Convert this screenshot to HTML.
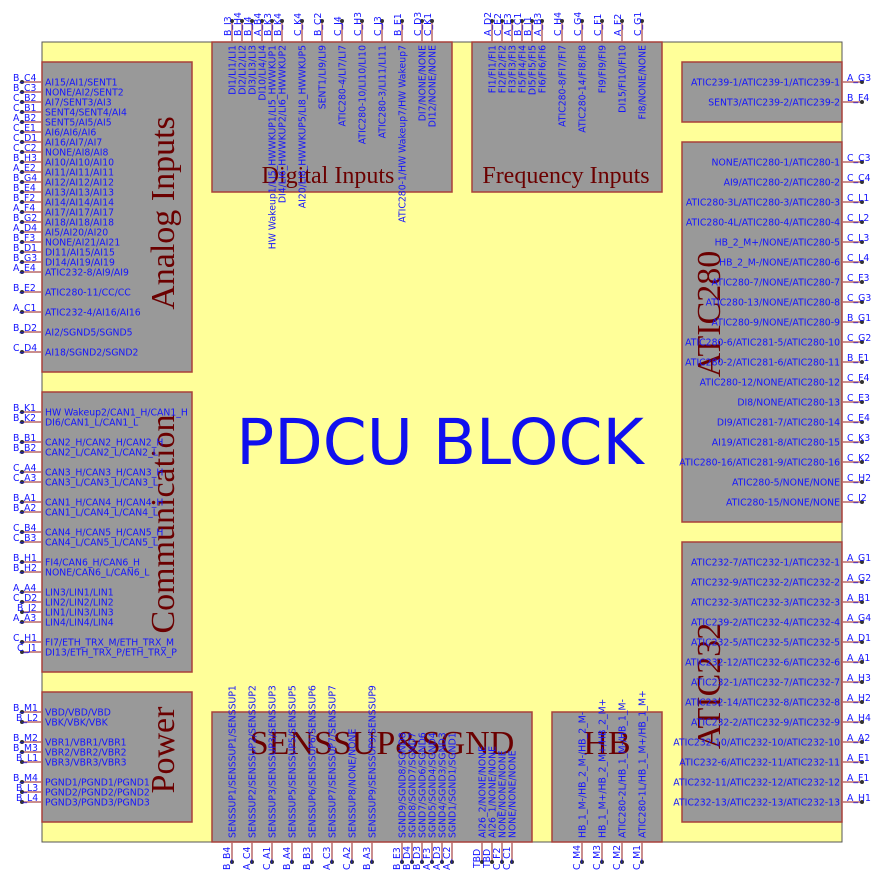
<!DOCTYPE html>
<html><head><meta charset="utf-8"><style>
html,body{margin:0;padding:0;background:#fff;}
svg{display:block;}
.t{font-family:"DejaVu Sans","Liberation Sans",sans-serif;font-size:9.3px;fill:#1414ff;}
.e{text-anchor:end;}
.ti{font-family:"Liberation Serif",serif;fill:#6b0000;}
.pl{stroke:#b86868;stroke-width:1.5;}
.bx{fill:#999999;stroke:#a8403a;stroke-width:1.5;}
</style></head><body>
<svg width="884" height="884" viewBox="0 0 884 884" xmlns="http://www.w3.org/2000/svg">
<rect x="0" y="0" width="884" height="884" fill="#fff"/>
<rect x="42" y="42" width="800" height="800" fill="#ffff99" stroke="#555" stroke-width="1"/>

<!-- boxes -->
<rect class="bx" x="42" y="62" width="150" height="310"/>
<rect class="bx" x="42" y="392" width="150" height="280"/>
<rect class="bx" x="42" y="692" width="150" height="130"/>
<rect class="bx" x="212" y="42" width="240" height="150"/>
<rect class="bx" x="472" y="42" width="190" height="150"/>
<rect class="bx" x="682" y="62" width="160" height="60"/>
<rect class="bx" x="682" y="142" width="160" height="380"/>
<rect class="bx" x="682" y="542" width="160" height="280"/>
<rect class="bx" x="212" y="712" width="320" height="130"/>
<rect class="bx" x="552" y="712" width="110" height="130"/>

<!-- titles -->
<text class="ti" font-size="34" text-anchor="middle" transform="translate(174,213) rotate(-90)">Analog Inputs</text>
<text class="ti" font-size="34" text-anchor="middle" transform="translate(174,524) rotate(-90)">Communication</text>
<text class="ti" font-size="34" text-anchor="middle" transform="translate(174,750) rotate(-90)">Power</text>
<text class="ti" font-size="24" text-anchor="middle" x="328" y="183">Digital Inputs</text>
<text class="ti" font-size="24" text-anchor="middle" x="566" y="183">Frequency Inputs</text>
<text class="ti" font-size="34" text-anchor="middle" transform="translate(720,314) rotate(-90)">ATIC280</text>
<text class="ti" font-size="34" text-anchor="middle" transform="translate(720,686) rotate(-90)">ATIC232</text>
<text class="ti" font-size="34" text-anchor="middle" x="382" y="754">SENSSUP&amp;SGND</text>
<text class="ti" font-size="34" text-anchor="middle" x="607" y="754">HB</text>

<text x="440" y="464" text-anchor="middle" font-family="'DejaVu Sans','Liberation Sans',sans-serif" font-size="63" fill="#1010ee">PDCU BLOCK</text>

<!-- LEFT PINS -->
<g id="left">
<path class="pl" d="M22 82H42M22 92H42M22 102H42M22 112H42M22 122H42M22 132H42M22 142H42M22 152H42M22 162H42M22 172H42M22 182H42M22 192H42M22 202H42M22 212H42M22 222H42M22 232H42M22 242H42M22 252H42M22 262H42M22 272H42M22 292H42M22 312H42M22 332H42M22 352H42
M22 412H42M22 422H42M22 442H42M22 452H42M22 472H42M22 482H42M22 502H42M22 512H42M22 532H42M22 542H42M22 562H42M22 572H42M22 592H42M22 602H42M22 612H42M22 622H42M22 642H42M22 652H42
M22 712H42M22 722H42M22 742H42M22 752H42M22 762H42M22 782H42M22 792H42M22 802H42"/>
<g fill="#333">
<circle cx="22" cy="82" r="2"/><circle cx="22" cy="92" r="2"/><circle cx="22" cy="102" r="2"/><circle cx="22" cy="112" r="2"/><circle cx="22" cy="122" r="2"/><circle cx="22" cy="132" r="2"/><circle cx="22" cy="142" r="2"/><circle cx="22" cy="152" r="2"/><circle cx="22" cy="162" r="2"/><circle cx="22" cy="172" r="2"/><circle cx="22" cy="182" r="2"/><circle cx="22" cy="192" r="2"/><circle cx="22" cy="202" r="2"/><circle cx="22" cy="212" r="2"/><circle cx="22" cy="222" r="2"/><circle cx="22" cy="232" r="2"/><circle cx="22" cy="242" r="2"/><circle cx="22" cy="252" r="2"/><circle cx="22" cy="262" r="2"/><circle cx="22" cy="272" r="2"/><circle cx="22" cy="292" r="2"/><circle cx="22" cy="312" r="2"/><circle cx="22" cy="332" r="2"/><circle cx="22" cy="352" r="2"/>
<circle cx="22" cy="412" r="2"/><circle cx="22" cy="422" r="2"/><circle cx="22" cy="442" r="2"/><circle cx="22" cy="452" r="2"/><circle cx="22" cy="472" r="2"/><circle cx="22" cy="482" r="2"/><circle cx="22" cy="502" r="2"/><circle cx="22" cy="512" r="2"/><circle cx="22" cy="532" r="2"/><circle cx="22" cy="542" r="2"/><circle cx="22" cy="562" r="2"/><circle cx="22" cy="572" r="2"/><circle cx="22" cy="592" r="2"/><circle cx="22" cy="602" r="2"/><circle cx="22" cy="612" r="2"/><circle cx="22" cy="622" r="2"/><circle cx="22" cy="642" r="2"/><circle cx="22" cy="652" r="2"/>
<circle cx="22" cy="712" r="2"/><circle cx="22" cy="722" r="2"/><circle cx="22" cy="742" r="2"/><circle cx="22" cy="752" r="2"/><circle cx="22" cy="762" r="2"/><circle cx="22" cy="782" r="2"/><circle cx="22" cy="792" r="2"/><circle cx="22" cy="802" r="2"/>
</g>
<g class="t">
<text x="13" y="81">B_C4</text><text x="45" y="85.5">AI15/AI1/SENT1</text>
<text x="13" y="91">B_C3</text><text x="45" y="95.5">NONE/AI2/SENT2</text>
<text x="13" y="101">C_B2</text><text x="45" y="105.5">AI7/SENT3/AI3</text>
<text x="13" y="111">C_B1</text><text x="45" y="115.5">SENT4/SENT4/AI4</text>
<text x="13" y="121">A_B2</text><text x="45" y="125.5">SENT5/AI5/AI5</text>
<text x="13" y="131">C_E1</text><text x="45" y="135.5">AI6/AI6/AI6</text>
<text x="13" y="141">C_D1</text><text x="45" y="145.5">AI16/AI7/AI7</text>
<text x="13" y="151">C_C2</text><text x="45" y="155.5">NONE/AI8/AI8</text>
<text x="13" y="161">B_H3</text><text x="45" y="165.5">AI10/AI10/AI10</text>
<text x="13" y="171">A_E2</text><text x="45" y="175.5">AI11/AI11/AI11</text>
<text x="13" y="181">B_G4</text><text x="45" y="185.5">AI12/AI12/AI12</text>
<text x="13" y="191">B_E4</text><text x="45" y="195.5">AI13/AI13/AI13</text>
<text x="13" y="201">B_F2</text><text x="45" y="205.5">AI14/AI14/AI14</text>
<text x="13" y="211">A_F4</text><text x="45" y="215.5">AI17/AI17/AI17</text>
<text x="13" y="221">B_G2</text><text x="45" y="225.5">AI18/AI18/AI18</text>
<text x="13" y="231">A_D4</text><text x="45" y="235.5">AI5/AI20/AI20</text>
<text x="13" y="241">B_F3</text><text x="45" y="245.5">NONE/AI21/AI21</text>
<text x="13" y="251">B_D1</text><text x="45" y="255.5">DI11/AI15/AI15</text>
<text x="13" y="261">B_G3</text><text x="45" y="265.5">DI14/AI19/AI19</text>
<text x="13" y="271">A_E4</text><text x="45" y="275.5">ATIC232-8/AI9/AI9</text>
<text x="13" y="291">B_E2</text><text x="45" y="295.5">ATIC280-11/CC/CC</text>
<text x="13" y="311">A_C1</text><text x="45" y="315.5">ATIC232-4/AI16/AI16</text>
<text x="13" y="331">B_D2</text><text x="45" y="335.5">AI2/SGND5/SGND5</text>
<text x="13" y="351">C_D4</text><text x="45" y="355.5">AI18/SGND2/SGND2</text>

<text x="13" y="411">B_K1</text><text x="45" y="415.5">HW Wakeup2/CAN1_H/CAN1_H</text>
<text x="13" y="421">B_K2</text><text x="45" y="425.5">DI6/CAN1_L/CAN1_L</text>
<text x="13" y="441">B_B1</text><text x="45" y="445.5">CAN2_H/CAN2_H/CAN2_H</text>
<text x="13" y="451">B_B2</text><text x="45" y="455.5">CAN2_L/CAN2_L/CAN2_L</text>
<text x="13" y="471">C_A4</text><text x="45" y="475.5">CAN3_H/CAN3_H/CAN3_H</text>
<text x="13" y="481">C_A3</text><text x="45" y="485.5">CAN3_L/CAN3_L/CAN3_L</text>
<text x="13" y="501">B_A1</text><text x="45" y="505.5">CAN1_H/CAN4_H/CAN4_H</text>
<text x="13" y="511">B_A2</text><text x="45" y="515.5">CAN1_L/CAN4_L/CAN4_L</text>
<text x="13" y="531">C_B4</text><text x="45" y="535.5">CAN4_H/CAN5_H/CAN5_H</text>
<text x="13" y="541">C_B3</text><text x="45" y="545.5">CAN4_L/CAN5_L/CAN5_L</text>
<text x="13" y="561">B_H1</text><text x="45" y="565.5">FI4/CAN6_H/CAN6_H</text>
<text x="13" y="571">B_H2</text><text x="45" y="575.5">NONE/CAN6_L/CAN6_L</text>
<text x="13" y="591">A_A4</text><text x="45" y="595.5">LIN3/LIN1/LIN1</text>
<text x="13" y="601">C_D2</text><text x="45" y="605.5">LIN2/LIN2/LIN2</text>
<text x="17" y="611">B_J2</text><text x="45" y="615.5">LIN1/LIN3/LIN3</text>
<text x="13" y="621">A_A3</text><text x="45" y="625.5">LIN4/LIN4/LIN4</text>
<text x="13" y="641">C_H1</text><text x="45" y="645.5">FI7/ETH_TRX_M/ETH_TRX_M</text>
<text x="17" y="651">C_J1</text><text x="45" y="655.5">DI13/ETH_TRX_P/ETH_TRX_P</text>

<text x="13" y="711">B_M1</text><text x="45" y="715.5">VBD/VBD/VBD</text>
<text x="16" y="721">B_L2</text><text x="45" y="725.5">VBK/VBK/VBK</text>
<text x="13" y="741">B_M2</text><text x="45" y="745.5">VBR1/VBR1/VBR1</text>
<text x="13" y="751">B_M3</text><text x="45" y="755.5">VBR2/VBR2/VBR2</text>
<text x="16" y="761">B_L1</text><text x="45" y="765.5">VBR3/VBR3/VBR3</text>
<text x="13" y="781">B_M4</text><text x="45" y="785.5">PGND1/PGND1/PGND1</text>
<text x="16" y="791">B_L3</text><text x="45" y="795.5">PGND2/PGND2/PGND2</text>
<text x="16" y="801">B_L4</text><text x="45" y="805.5">PGND3/PGND3/PGND3</text>
</g>
</g>

<!-- RIGHT PINS -->
<g>
<path class="pl" d="M842 82H862M842 102H862M842 162H862M842 182H862M842 202H862M842 222H862M842 242H862M842 262H862M842 282H862M842 302H862M842 322H862M842 342H862M842 362H862M842 382H862M842 402H862M842 422H862M842 442H862M842 462H862M842 482H862M842 502H862
M842 562H862M842 582H862M842 602H862M842 622H862M842 642H862M842 662H862M842 682H862M842 702H862M842 722H862M842 742H862M842 762H862M842 782H862M842 802H862"/>
<g fill="#333">
<circle cx="862" cy="82" r="2"/><circle cx="862" cy="102" r="2"/><circle cx="862" cy="162" r="2"/><circle cx="862" cy="182" r="2"/><circle cx="862" cy="202" r="2"/><circle cx="862" cy="222" r="2"/><circle cx="862" cy="242" r="2"/><circle cx="862" cy="262" r="2"/><circle cx="862" cy="282" r="2"/><circle cx="862" cy="302" r="2"/><circle cx="862" cy="322" r="2"/><circle cx="862" cy="342" r="2"/><circle cx="862" cy="362" r="2"/><circle cx="862" cy="382" r="2"/><circle cx="862" cy="402" r="2"/><circle cx="862" cy="422" r="2"/><circle cx="862" cy="442" r="2"/><circle cx="862" cy="462" r="2"/><circle cx="862" cy="482" r="2"/><circle cx="862" cy="502" r="2"/>
<circle cx="862" cy="562" r="2"/><circle cx="862" cy="582" r="2"/><circle cx="862" cy="602" r="2"/><circle cx="862" cy="622" r="2"/><circle cx="862" cy="642" r="2"/><circle cx="862" cy="662" r="2"/><circle cx="862" cy="682" r="2"/><circle cx="862" cy="702" r="2"/><circle cx="862" cy="722" r="2"/><circle cx="862" cy="742" r="2"/><circle cx="862" cy="762" r="2"/><circle cx="862" cy="782" r="2"/><circle cx="862" cy="802" r="2"/>
</g>
<g class="t">
<text x="847" y="81">A_G3</text><text class="e" x="840" y="85.5">ATIC239-1/ATIC239-1/ATIC239-1</text>
<text x="847" y="101">B_F4</text><text class="e" x="840" y="105.5">SENT3/ATIC239-2/ATIC239-2</text>
<text x="847" y="161">C_C3</text><text class="e" x="840" y="165.5">NONE/ATIC280-1/ATIC280-1</text>
<text x="847" y="181">C_C4</text><text class="e" x="840" y="185.5">AI9/ATIC280-2/ATIC280-2</text>
<text x="847" y="201">C_L1</text><text class="e" x="840" y="205.5">ATIC280-3L/ATIC280-3/ATIC280-3</text>
<text x="847" y="221">C_L2</text><text class="e" x="840" y="225.5">ATIC280-4L/ATIC280-4/ATIC280-4</text>
<text x="847" y="241">C_L3</text><text class="e" x="840" y="245.5">HB_2_M+/NONE/ATIC280-5</text>
<text x="847" y="261">C_L4</text><text class="e" x="840" y="265.5">HB_2_M-/NONE/ATIC280-6</text>
<text x="847" y="281">C_F3</text><text class="e" x="840" y="285.5">ATIC280-7/NONE/ATIC280-7</text>
<text x="847" y="301">C_G3</text><text class="e" x="840" y="305.5">ATIC280-13/NONE/ATIC280-8</text>
<text x="847" y="321">B_G1</text><text class="e" x="840" y="325.5">ATIC280-9/NONE/ATIC280-9</text>
<text x="847" y="341">C_G2</text><text class="e" x="840" y="345.5">ATIC280-6/ATIC281-5/ATIC280-10</text>
<text x="847" y="361">B_F1</text><text class="e" x="840" y="365.5">ATIC280-2/ATIC281-6/ATIC280-11</text>
<text x="847" y="381">C_F4</text><text class="e" x="840" y="385.5">ATIC280-12/NONE/ATIC280-12</text>
<text x="847" y="401">C_E3</text><text class="e" x="840" y="405.5">DI8/NONE/ATIC280-13</text>
<text x="847" y="421">C_E4</text><text class="e" x="840" y="425.5">DI9/ATIC281-7/ATIC280-14</text>
<text x="847" y="441">C_K3</text><text class="e" x="840" y="445.5">AI19/ATIC281-8/ATIC280-15</text>
<text x="847" y="461">C_K2</text><text class="e" x="840" y="465.5">ATIC280-16/ATIC281-9/ATIC280-16</text>
<text x="847" y="481">C_H2</text><text class="e" x="840" y="485.5">ATIC280-5/NONE/NONE</text>
<text x="847" y="501">C_I2</text><text class="e" x="840" y="505.5">ATIC280-15/NONE/NONE</text>
<text x="847" y="561">A_G1</text><text class="e" x="840" y="565.5">ATIC232-7/ATIC232-1/ATIC232-1</text>
<text x="847" y="581">A_G2</text><text class="e" x="840" y="585.5">ATIC232-9/ATIC232-2/ATIC232-2</text>
<text x="847" y="601">A_B1</text><text class="e" x="840" y="605.5">ATIC232-3/ATIC232-3/ATIC232-3</text>
<text x="847" y="621">A_G4</text><text class="e" x="840" y="625.5">ATIC239-2/ATIC232-4/ATIC232-4</text>
<text x="847" y="641">A_D1</text><text class="e" x="840" y="645.5">ATIC232-5/ATIC232-5/ATIC232-5</text>
<text x="847" y="661">A_A1</text><text class="e" x="840" y="665.5">ATIC232-12/ATIC232-6/ATIC232-6</text>
<text x="847" y="681">A_H3</text><text class="e" x="840" y="685.5">ATIC232-1/ATIC232-7/ATIC232-7</text>
<text x="847" y="701">A_H2</text><text class="e" x="840" y="705.5">ATIC232-14/ATIC232-8/ATIC232-8</text>
<text x="847" y="721">A_H4</text><text class="e" x="840" y="725.5">ATIC232-2/ATIC232-9/ATIC232-9</text>
<text x="847" y="741">A_A2</text><text class="e" x="840" y="745.5">ATIC232-10/ATIC232-10/ATIC232-10</text>
<text x="847" y="761">A_E1</text><text class="e" x="840" y="765.5">ATIC232-6/ATIC232-11/ATIC232-11</text>
<text x="847" y="781">A_F1</text><text class="e" x="840" y="785.5">ATIC232-11/ATIC232-12/ATIC232-12</text>
<text x="847" y="801">A_H1</text><text class="e" x="840" y="805.5">ATIC232-13/ATIC232-13/ATIC232-13</text>
</g>
</g>

<!-- TOP PINS -->
<g>
<path class="pl" d="M232 21V42M242 21V42M252 21V42M262 21V42M272 21V42M282 21V42M302 21V42M322 21V42M342 21V42M362 21V42M382 21V42M402 21V42M422 21V42M432 21V42
M492 21V42M502 21V42M512 21V42M522 21V42M532 21V42M542 21V42M562 21V42M582 21V42M602 21V42M622 21V42M642 21V42"/>
<g fill="#333">
<circle cx="232" cy="21" r="2"/><circle cx="242" cy="21" r="2"/><circle cx="252" cy="21" r="2"/><circle cx="262" cy="21" r="2"/><circle cx="272" cy="21" r="2"/><circle cx="282" cy="21" r="2"/><circle cx="302" cy="21" r="2"/><circle cx="322" cy="21" r="2"/><circle cx="342" cy="21" r="2"/><circle cx="362" cy="21" r="2"/><circle cx="382" cy="21" r="2"/><circle cx="402" cy="21" r="2"/><circle cx="422" cy="21" r="2"/><circle cx="432" cy="21" r="2"/>
<circle cx="492" cy="21" r="2"/><circle cx="502" cy="21" r="2"/><circle cx="512" cy="21" r="2"/><circle cx="522" cy="21" r="2"/><circle cx="532" cy="21" r="2"/><circle cx="542" cy="21" r="2"/><circle cx="562" cy="21" r="2"/><circle cx="582" cy="21" r="2"/><circle cx="602" cy="21" r="2"/><circle cx="622" cy="21" r="2"/><circle cx="642" cy="21" r="2"/>
</g>
<g class="t">
<text transform="translate(231,36) rotate(-90)">B_I3</text><text class="e" transform="translate(235.5,45) rotate(-90)">DI1/LI1/LI1</text>
<text transform="translate(241,36) rotate(-90)">B_H4</text><text class="e" transform="translate(245.5,45) rotate(-90)">DI2/LI2/LI2</text>
<text transform="translate(251,36) rotate(-90)">B_J4</text><text class="e" transform="translate(255.5,45) rotate(-90)">DI3/LI3/LI3</text>
<text transform="translate(261,36) rotate(-90)">A_B4</text><text class="e" transform="translate(265.5,45) rotate(-90)">DI10/LI4/LI4</text>
<text transform="translate(271,36) rotate(-90)">B_K3</text><text class="e" transform="translate(275.5,45) rotate(-90)">HW Wakeup1/LI5_HWWKUP1/LI5_HWWKUP1</text>
<text transform="translate(281,36) rotate(-90)">B_K4</text><text class="e" transform="translate(285.5,45) rotate(-90)">DI4/LI6_HWWKUP2/LI6_HWWKUP2</text>
<text transform="translate(301,36) rotate(-90)">C_K4</text><text class="e" transform="translate(305.5,45) rotate(-90)">AI20/LI8_HWWKUP5/LI8_HWWKUP5</text>
<text transform="translate(321,36) rotate(-90)">B_C2</text><text class="e" transform="translate(325.5,45) rotate(-90)">SENT1/LI9/LI9</text>
<text transform="translate(341,36) rotate(-90)">C_J4</text><text class="e" transform="translate(345.5,45) rotate(-90)">ATIC280-4/LI7/LI7</text>
<text transform="translate(361,36) rotate(-90)">C_H3</text><text class="e" transform="translate(365.5,45) rotate(-90)">ATIC280-10/LI10/LI10</text>
<text transform="translate(381,36) rotate(-90)">C_J3</text><text class="e" transform="translate(385.5,45) rotate(-90)">ATIC280-3/LI11/LI11</text>
<text transform="translate(401,36) rotate(-90)">B_E1</text><text class="e" transform="translate(405.5,45) rotate(-90)">ATIC280-1/HW Wakeup7/HW Wakeup7</text>
<text transform="translate(421,36) rotate(-90)">C_D3</text><text class="e" transform="translate(425.5,45) rotate(-90)">DI7/NONE/NONE</text>
<text transform="translate(431,36) rotate(-90)">C_K1</text><text class="e" transform="translate(435.5,45) rotate(-90)">DI12/NONE/NONE</text>

<text transform="translate(491,36) rotate(-90)">A_D2</text><text class="e" transform="translate(495.5,45) rotate(-90)">FI1/FI1/FI1</text>
<text transform="translate(501,36) rotate(-90)">C_E2</text><text class="e" transform="translate(505.5,45) rotate(-90)">FI2/FI2/FI2</text>
<text transform="translate(511,36) rotate(-90)">A_E3</text><text class="e" transform="translate(515.5,45) rotate(-90)">FI3/FI3/FI3</text>
<text transform="translate(521,36) rotate(-90)">B_C1</text><text class="e" transform="translate(525.5,45) rotate(-90)">FI5/FI4/FI4</text>
<text transform="translate(531,36) rotate(-90)">B_I1</text><text class="e" transform="translate(535.5,45) rotate(-90)">DI5/FI5/FI5</text>
<text transform="translate(541,36) rotate(-90)">A_B3</text><text class="e" transform="translate(545.5,45) rotate(-90)">FI6/FI6/FI6</text>
<text transform="translate(561,36) rotate(-90)">C_H4</text><text class="e" transform="translate(565.5,45) rotate(-90)">ATIC280-8/FI7/FI7</text>
<text transform="translate(581,36) rotate(-90)">C_G4</text><text class="e" transform="translate(585.5,45) rotate(-90)">ATIC280-14/FI8/FI8</text>
<text transform="translate(601,36) rotate(-90)">C_F1</text><text class="e" transform="translate(605.5,45) rotate(-90)">FI9/FI9/FI9</text>
<text transform="translate(621,36) rotate(-90)">A_F2</text><text class="e" transform="translate(625.5,45) rotate(-90)">DI15/FI10/FI10</text>
<text transform="translate(641,36) rotate(-90)">C_G1</text><text class="e" transform="translate(645.5,45) rotate(-90)">FI8/NONE/NONE</text>
</g>
</g>

<!-- BOTTOM PINS -->
<g>
<path class="pl" d="M232 842V862M252 842V862M272 842V862M292 842V862M312 842V862M332 842V862M352 842V862M372 842V862M402 842V862M412 842V862M422 842V862M432 842V862M442 842V862M452 842V862M482 842V862M492 842V862M502 842V862M512 842V862M582 842V862M602 842V862M622 842V862M642 842V862"/>
<g fill="#333">
<circle cx="232" cy="862" r="2"/><circle cx="252" cy="862" r="2"/><circle cx="272" cy="862" r="2"/><circle cx="292" cy="862" r="2"/><circle cx="312" cy="862" r="2"/><circle cx="332" cy="862" r="2"/><circle cx="352" cy="862" r="2"/><circle cx="372" cy="862" r="2"/><circle cx="402" cy="862" r="2"/><circle cx="412" cy="862" r="2"/><circle cx="422" cy="862" r="2"/><circle cx="432" cy="862" r="2"/><circle cx="442" cy="862" r="2"/><circle cx="452" cy="862" r="2"/><circle cx="482" cy="862" r="2"/><circle cx="492" cy="862" r="2"/><circle cx="502" cy="862" r="2"/><circle cx="512" cy="862" r="2"/><circle cx="582" cy="862" r="2"/><circle cx="602" cy="862" r="2"/><circle cx="622" cy="862" r="2"/><circle cx="642" cy="862" r="2"/>
</g>
<g class="t">
<text transform="translate(230,870) rotate(-90)">B_B4</text><text transform="translate(235.5,838) rotate(-90)">SENSSUP1/SENSSUP1/SENSSUP1</text>
<text transform="translate(250,870) rotate(-90)">A_C4</text><text transform="translate(255.5,838) rotate(-90)">SENSSUP2/SENSSUP2/SENSSUP2</text>
<text transform="translate(270,870) rotate(-90)">C_A1</text><text transform="translate(275.5,838) rotate(-90)">SENSSUP3/SENSSUP3/SENSSUP3</text>
<text transform="translate(290,870) rotate(-90)">B_A4</text><text transform="translate(295.5,838) rotate(-90)">SENSSUP5/SENSSUP5/SENSSUP5</text>
<text transform="translate(310,870) rotate(-90)">B_B3</text><text transform="translate(315.5,838) rotate(-90)">SENSSUP6/SENSSUP6/SENSSUP6</text>
<text transform="translate(330,870) rotate(-90)">A_C3</text><text transform="translate(335.5,838) rotate(-90)">SENSSUP7/SENSSUP7/SENSSUP7</text>
<text transform="translate(350,870) rotate(-90)">C_A2</text><text transform="translate(355.5,838) rotate(-90)">SENSSUP8/NONE/NONE</text>
<text transform="translate(370,870) rotate(-90)">B_A3</text><text transform="translate(375.5,838) rotate(-90)">SENSSUP9/SENSSUP9/SENSSUP9</text>
<text transform="translate(400,870) rotate(-90)">B_E3</text><text transform="translate(405.5,838) rotate(-90)">SGND9/SGND8/SGND8</text>
<text transform="translate(410,870) rotate(-90)">B_D4</text><text transform="translate(415.5,838) rotate(-90)">SGND8/SGND7/SGND7</text>
<text transform="translate(420,870) rotate(-90)">B_D3</text><text transform="translate(425.5,838) rotate(-90)">SGND7/SGND6/SGND6</text>
<text transform="translate(430,870) rotate(-90)">A_F3</text><text transform="translate(435.5,838) rotate(-90)">SGND5/SGND4/SGND4</text>
<text transform="translate(440,870) rotate(-90)">A_D3</text><text transform="translate(445.5,838) rotate(-90)">SGND4/SGND3/SGND3</text>
<text transform="translate(450,870) rotate(-90)">A_C2</text><text transform="translate(455.5,838) rotate(-90)">SGND1/SGND1/SGND1</text>
<text transform="translate(480,868) rotate(-90)">TBD</text><text transform="translate(485.5,838) rotate(-90)">AI26_2/NONE/NONE</text>
<text transform="translate(490,868) rotate(-90)">TBD</text><text transform="translate(495.5,838) rotate(-90)">AI26_1/NONE/NONE</text>
<text transform="translate(500,870) rotate(-90)">C_F2</text><text transform="translate(505.5,838) rotate(-90)">NONE/NONE/NONE</text>
<text transform="translate(510,870) rotate(-90)">C_C1</text><text transform="translate(515.5,838) rotate(-90)">NONE/NONE/NONE</text>
<text transform="translate(580,870) rotate(-90)">C_M4</text><text transform="translate(585.5,838) rotate(-90)">HB_1_M-/HB_2_M-/HB_2_M-</text>
<text transform="translate(600,870) rotate(-90)">C_M3</text><text transform="translate(605.5,838) rotate(-90)">HB_1_M+/HB_2_M+/HB_2_M+</text>
<text transform="translate(620,870) rotate(-90)">C_M2</text><text transform="translate(625.5,838) rotate(-90)">ATIC280-2L/HB_1_M-/HB_1_M-</text>
<text transform="translate(640,870) rotate(-90)">C_M1</text><text transform="translate(645.5,838) rotate(-90)">ATIC280-1L/HB_1_M+/HB_1_M+</text>
</g>
</g>
</svg>
</body></html>
